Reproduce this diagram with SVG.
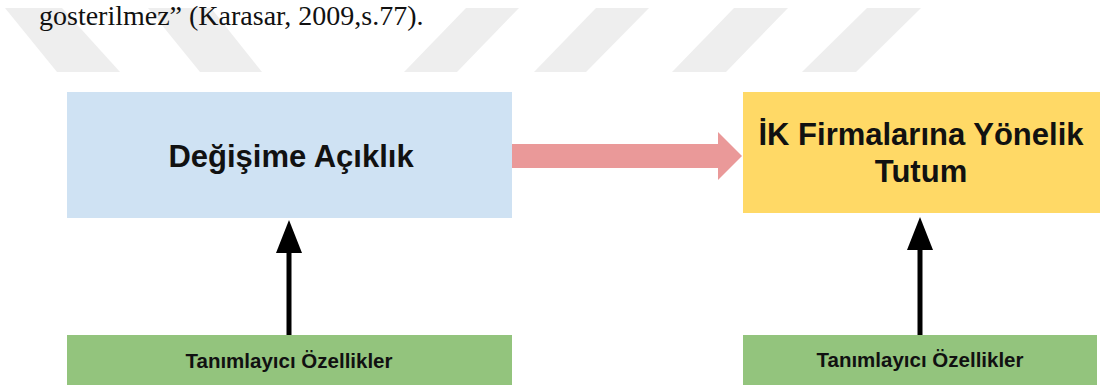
<svg xmlns="http://www.w3.org/2000/svg" width="1100" height="390" viewBox="0 0 1100 390">
  <style>
    .wm { fill: #eeeeee; }
    .box-blue { fill: #cfe2f3; }
    .box-yellow { fill: #ffd966; }
    .box-green { fill: #93c47d; }
    .title { font-family: "Liberation Sans", Arial, sans-serif; font-weight: bold; fill: #111111; text-anchor: middle; }
    .big { font-size: 31px; }
    .small { font-size: 20.5px; }
    .doc { font-family: "Liberation Serif", "Times New Roman", serif; font-size: 28px; fill: #111111; }
    .link { stroke: #000000; stroke-width: 5; fill: none; }
    .flow { fill: #ea9999; }
  </style>
  <defs>
    <marker id="blackhead" viewBox="0 0 33 26" refX="0" refY="13" markerWidth="33" markerHeight="26" markerUnits="userSpaceOnUse" orient="auto">
      <path d="M0,0 L33,13 L0,26 z" fill="#000000"/>
    </marker>
  </defs>

  <g id="background">
    <polygon class="wm" points="5,8 62,8 120,72 57,72"/>
    <polygon class="wm" points="148,8 211,8 262,72 200,72"/>
    <polygon class="wm" points="466,8 519,8 457,72 404,72"/>
    <polygon class="wm" points="596,8 649,8 586,72 534,72"/>
    <polygon class="wm" points="734,8 788,8 726,72 672,72"/>
    <polygon class="wm" points="867,8 921,8 856,72 802,72"/>
    <text class="doc" x="39" y="25">gosterilmez” (Karasar, 2009,s.77).</text>
  </g>

  <g id="connectors">
    <polygon class="flow" points="512,144 718,144 718,132 742,156 718,180 718,168 512,168"/>
    <line class="link" x1="289" y1="335" x2="289" y2="253" marker-end="url(#blackhead)"/>
    <line class="link" x1="920" y1="335" x2="920" y2="250" marker-end="url(#blackhead)"/>
  </g>

  <g id="node-degisime">
    <rect class="box-blue" x="67" y="92" width="445" height="126"/>
    <text class="title big" x="291" y="167">Değişime Açıklık</text>
  </g>

  <g id="node-ik">
    <rect class="box-yellow" x="743" y="92" width="357" height="121"/>
    <text class="title big" x="921" y="145">İK Firmalarına Yönelik</text>
    <text class="title big" x="921" y="182">Tutum</text>
  </g>

  <g id="node-tanim-left">
    <rect class="box-green" x="67" y="335" width="445" height="50"/>
    <text class="title small" x="289" y="368">Tanımlayıcı Özellikler</text>
  </g>

  <g id="node-tanim-right">
    <rect class="box-green" x="743" y="335" width="354" height="50"/>
    <text class="title small" x="920" y="367">Tanımlayıcı Özellikler</text>
  </g>
</svg>
